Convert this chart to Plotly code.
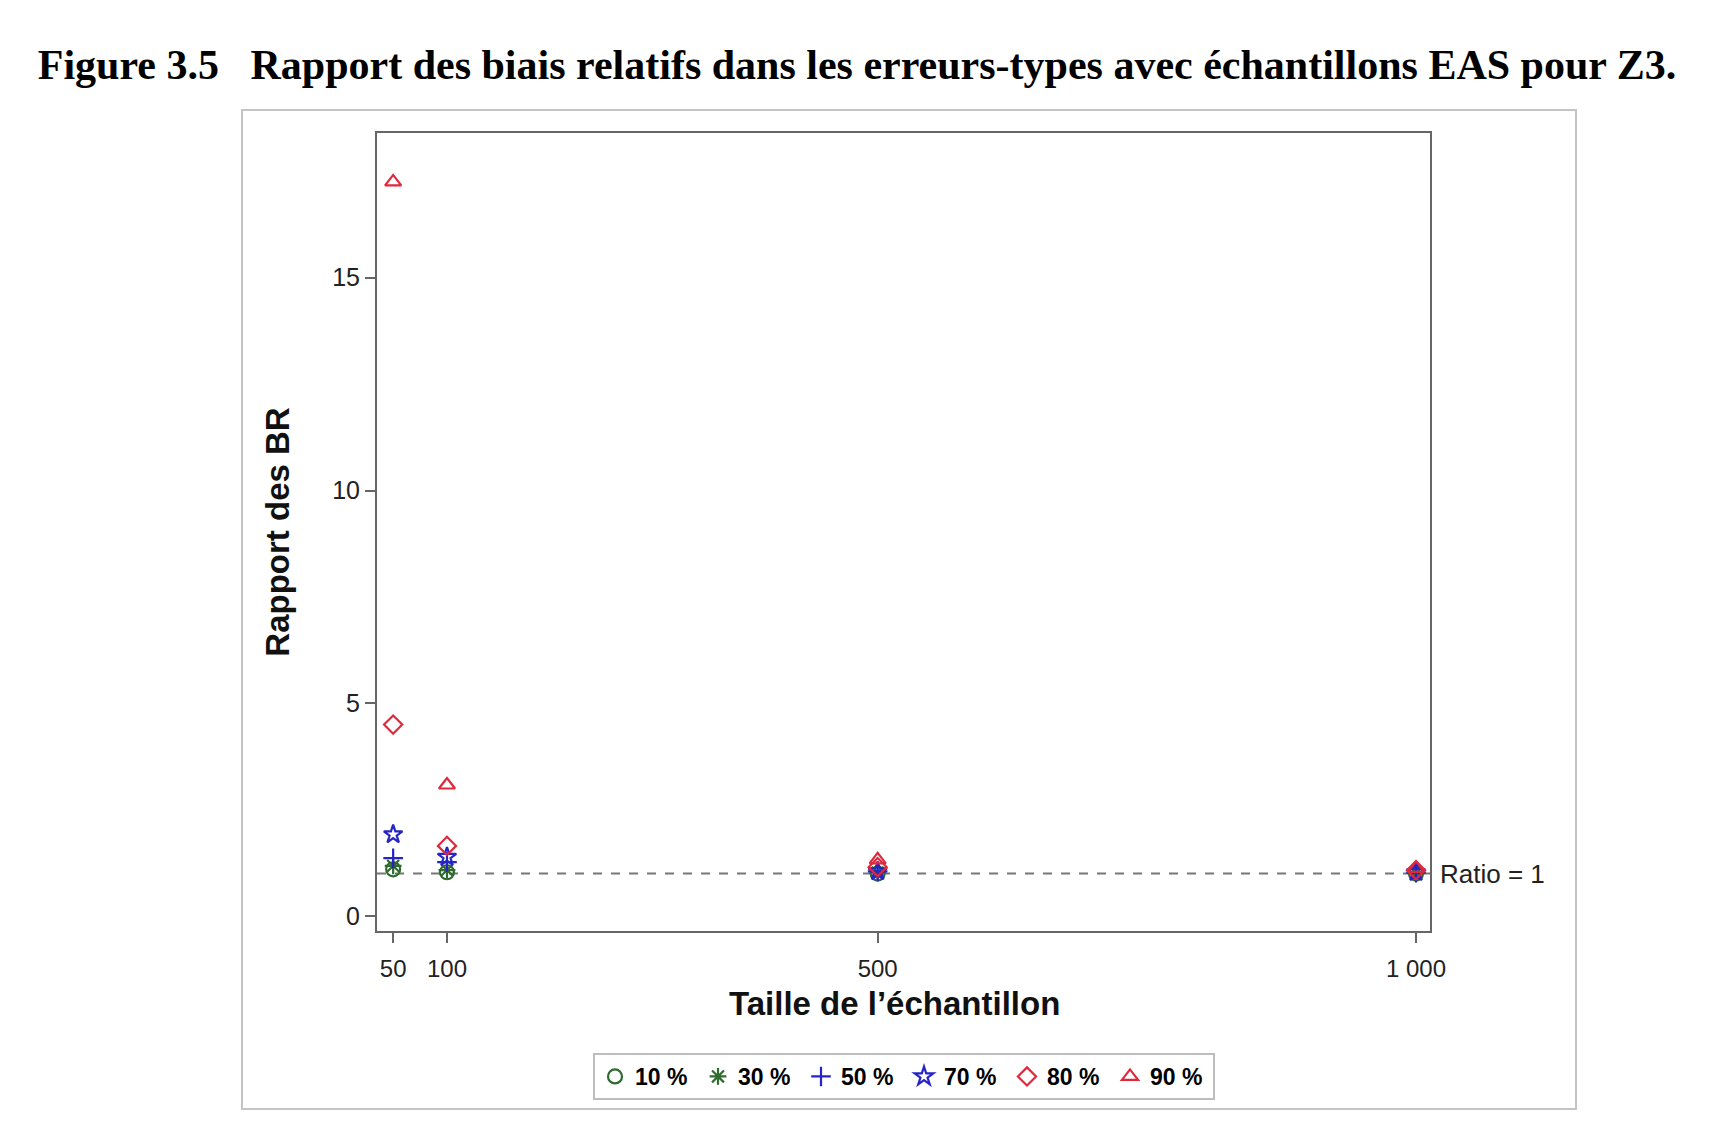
import plotly.graph_objects as go

sizes = [50, 100, 500, 1000]
series_names = ["10 %", "30 %", "50 %", "70 %", "80 %", "90 %"]
v10 = [1.10, 1.03, 1.00, 1.00]
v30 = [1.18, 1.08, 1.02, 1.01]
v50 = [1.36, 1.27, 1.05, 1.02]
v70 = [1.92, 1.39, 1.05, 1.03]
v80 = [4.50, 1.65, 1.15, 1.08]
v90 = [17.25, 3.08, 1.32, 1.12]
values = [v10, v30, v50, v70, v80, v90]
symbols = ["circle-open", "asterisk-open", "cross-thin-open", "star-open", "diamond-open", "triangle-up-open"]
colors = ["#2f6a2f", "#2f6a2f", "#2424c8", "#2424c8", "#e0283c", "#e0283c"]
xtick_vals = [50, 100, 500, 1000]
xtick_text = ["50", "100", "500", "1 000"]
ytick_vals = [0, 5, 10, 15]
ratio_line = 1

fig = go.Figure()
for name, vals, sym, col in zip(series_names, values, symbols, colors):
    fig.add_trace(go.Scatter(
        x=sizes, y=vals, mode="markers", name="<b>" + name + "</b>",
        marker=dict(symbol=sym, size=14, color=col, line=dict(width=2.2, color=col)),
    ))

L, R, T, B = 377, 1430, 133, 931
W, H = 1720, 1147
pw, ph = R - L, B - T

def px(x):
    return (x - L) / pw

def py(y):
    return (B - y) / ph

fig.add_shape(type="line", xref="paper", yref="y", x0=0, x1=1, y0=ratio_line, y1=ratio_line,
              line=dict(color="#777777", width=2, dash="dash"), layer="below")
fig.add_shape(type="rect", xref="paper", yref="paper",
              x0=px(242), x1=px(1576), y0=py(1109), y1=py(110),
              line=dict(color="#c4c4c4", width=2), fillcolor="rgba(0,0,0,0)")
fig.add_annotation(xref="paper", yref="y", x=1.0, y=ratio_line, text="Ratio = 1",
                   showarrow=False, xanchor="left", xshift=8,
                   font=dict(family="Liberation Sans, Arial", size=26, color="#222222"))
fig.add_annotation(xref="paper", yref="paper", x=px(894), y=py(1003),
                   text="<b>Taille de l’échantillon</b>", showarrow=False,
                   xanchor="center", yanchor="middle",
                   font=dict(family="Liberation Sans, Arial", size=33, color="#111111"))

fig.update_layout(
    width=W, height=H,
    margin=dict(l=L, r=W - R, t=T, b=H - B),
    paper_bgcolor="white", plot_bgcolor="white",
    title=dict(text="<b>Figure 3.5   Rapport des biais relatifs dans les erreurs-types avec échantillons EAS pour Z3.</b>",
               x=857 / W, xanchor="center", y=1 - 64 / H, yanchor="middle",
               font=dict(family="Liberation Serif, Times New Roman", size=42, color="black")),
    showlegend=True,
    legend=dict(orientation="h", x=px(904), xanchor="center", y=py(1053), yanchor="top",
                bordercolor="#bdbdbd", borderwidth=2, bgcolor="white",
                font=dict(family="Liberation Sans, Arial", size=23, color="black"),
                entrywidth=58, tracegroupgap=0),
    font=dict(family="Liberation Sans, Arial", color="#222222"),
)
fig.update_xaxes(
    range=[35, 1013], tickvals=xtick_vals, ticktext=xtick_text,
    showline=True, mirror=True, linecolor="#666666", linewidth=2,
    ticks="outside", ticklen=10, tickcolor="#666666", tickwidth=1.5,
    showgrid=False, zeroline=False, ticklabelstandoff=5,
    tickfont=dict(size=24, color="#222222"),
)
fig.update_yaxes(
    range=[-0.35, 18.4], tickvals=ytick_vals,
    showline=True, mirror=True, linecolor="#666666", linewidth=2,
    ticks="outside", ticklen=10, tickcolor="#666666", tickwidth=1.5,
    showgrid=False, zeroline=False,
    tickfont=dict(size=25, color="#222222"),
    title=dict(text="<b>Rapport des BR</b>", font=dict(size=33, color="#111111"), standoff=33),
)

fig.write_html("out.html")
